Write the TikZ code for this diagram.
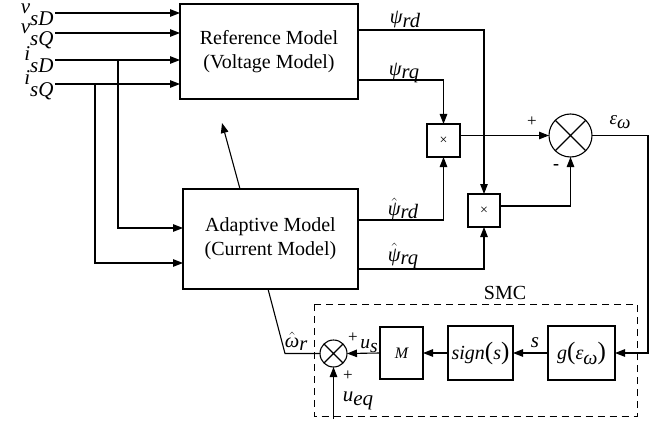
\documentclass[tikz,border=0pt]{standalone}
\usepackage{fontspec}
\setmainfont{Liberation Serif}
\usetikzlibrary{arrows.meta,shapes.geometric}
\newcommand\dn[2][0.15em]{\raisebox{-#1}{#2}}
\newcommand\hatof[1]{\ensuremath{\hat{\mbox{#1}}}}
\begin{document}
\begin{tikzpicture}[x=1pt,y=-1pt,
  line width=1.1pt,
  arr/.style={-{Triangle[length=10pt,width=7.5pt]}},
  blk/.style={draw, inner sep=0pt, outer sep=0pt, align=center, font=\fontsize{20}{24}\selectfont},
  sumc/.style={draw, circle, inner sep=0pt, outer sep=0pt},
  lab/.style={inner sep=0pt, font=\fontsize{21}{24}\selectfont\itshape},
  slab/.style={inner sep=0pt, font=\fontsize{20.5}{24}\selectfont\itshape},
  plain/.style={inner sep=0pt, font=\fontsize{17}{20}\selectfont},
]
\useasboundingbox (0,0) rectangle (660,422);

% blocks
\node[blk, minimum width=178, minimum height=95] (ref) at (269,51.5) {Reference Model\\(Voltage Model)};
\node[blk, minimum width=175, minimum height=100] (ada) at (270.5,239) {Adaptive Model\\(Current Model)};
\node[blk, minimum width=33, minimum height=33, font=\fontsize{14}{14}\selectfont] (mult1) at (443.5,140.5) {×};
\node[blk, minimum width=32, minimum height=33, font=\fontsize{14}{14}\selectfont] (mult2) at (484,210.5) {×};
\node[sumc, minimum size=43] (sum1) at (570.5,135.5) {};
\draw (sum1.north east) -- (sum1.south west) (sum1.north west) -- (sum1.south east);

% SMC
\draw[dashed, dash pattern=on 7pt off 5pt, line width=1pt] (314,304) rectangle (637,416.5);
\node[font=\fontsize{20}{24}\selectfont, inner sep=0pt] (lsmc) at (505,293) {SMC};
\node[sumc, minimum size=27] (sum2) at (333.5,353.5) {};
\draw (sum2.north east) -- (sum2.south west) (sum2.north west) -- (sum2.south east);
\node[blk, minimum width=43, minimum height=52, font=\fontsize{16}{18}\selectfont\itshape] (M) at (401.5,353) {M};
\node[blk, minimum width=65, minimum height=54] (sign) at (480.5,353) {{\itshape sign}{\fontsize{25}{25}\selectfont(}{\itshape s}{\fontsize{25}{25}\selectfont)}};
\node[blk, minimum width=67, minimum height=54] (g) at (581.5,353) {{\itshape g}{\fontsize{25}{25}\selectfont(}{\itshape ε\dn[0.25em]{ω}}{\fontsize{25}{25}\selectfont)}};

% inputs
\coordinate (inA) at (55,13);
\coordinate (inB) at (55,33);
\coordinate (inC) at (55,60);
\coordinate (inD) at (55,84);
\node[lab, anchor=base east] (lvsD) at (54,14) {v\dn[0.55em]{sD}};
\node[lab, anchor=base east] (lvsQ) at (54,34) {v\dn[0.55em]{sQ}};
\node[lab, anchor=base east] (lisD) at (54,61) {i\dn[0.55em]{sD}};
\node[lab, anchor=base east] (lisQ) at (54,85) {i\dn[0.55em]{sQ}};
\draw[arr] (inA) -- (inA -| ref.west);
\draw[arr] (inB) -- (inB -| ref.west);
\draw[arr] (inC) -- (inC -| ref.west);
\draw[arr] (inD) -- (inD -| ref.west);
\coordinate (brC) at (118,60);
\coordinate (brD) at (95,84);
\coordinate (yA) at (0,228);
\coordinate (yB) at (0,263);
\draw[arr] (brC) |- (ada.west |- yA);
\draw[arr] (brD) |- (ada.west |- yB);

% adaptive -> reference (slanted)
\coordinate (s1) at (240,189);
\coordinate (s2) at (222,123);
\draw[arr] (s1) -- (s2);

% flux signals
\coordinate (yrd) at (0,30);
\coordinate (yrq) at (0,80);
\coordinate (yhrd) at (0,220);
\coordinate (yhrq) at (0,269);
\coordinate (yo2) at (0,206);
\draw[arr] (ref.east |- yrd) -| (mult2.north);
\draw[arr] (ref.east |- yrq) -| (mult1.north);
\draw[arr] (ada.east |- yhrd) -| (mult1.south);
\draw[arr] (ada.east |- yhrq) -| (mult2.south);
\draw[arr] (mult1.east |- sum1.west) -- (sum1.west);
\draw[arr] (mult2.east |- yo2) -| (sum1.south);
\node[slab] (lprd) at (405,20) {ψ\dn{rd}};
\node[slab] (lprq) at (404,73) {ψ\dn{rq}};
\node[slab] (lhprd) at (403,209) {\hatof{ψ}\dn{rd}};
\node[slab] (lhprq) at (403,256) {\hatof{ψ}\dn{rq}};
\node[plain] (lp1) at (532,122) {+};
\node[inner sep=0pt, font=\fontsize{18}{20}\selectfont\bfseries] (lm1) at (556,167) {-};

% error
\coordinate (cR) at (648,353);
\draw[arr] (sum1.east) -| (cR) -- (g.east);
\node[lab, font=\fontsize{19}{22}\selectfont\itshape] (leps) at (620,122) {ε\dn[0.25em]{ω}};

% SMC chain
\draw[arr] (g.west) -- (sign.east);
\draw[arr] (sign.west) -- (M.east);
\draw[arr] (M.west) -- (sum2.east);
\coordinate (ueq) at (333.5,419);
\draw[arr] (ueq) -- (sum2.south);
\coordinate (wk) at (285,353.5);
\coordinate (wt) at (268,289);
\draw (sum2.west) -- (wk) -- (wt);
\node[lab] (ls) at (535,343) {s};
\node[plain] (lp2) at (353,338) {+};
\node[lab, font=\fontsize{19.5}{22}\selectfont\itshape] (lus) at (369,346) {u\dn[0.2em]{s}};
\node[plain] (lp3) at (348,376) {+};
\node[lab] (lueq) at (358,401) {u\dn[0.2em]{eq}};
\node[slab] (lwr) at (296,341) {\hatof{ω}\dn{r}};
\end{tikzpicture}
\end{document}
